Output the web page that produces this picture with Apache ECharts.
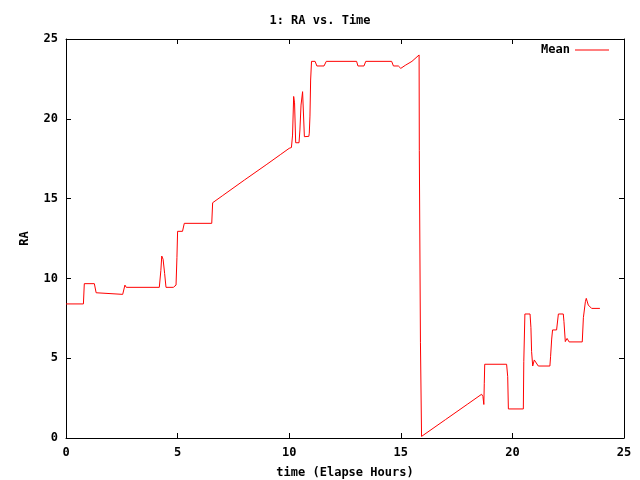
<!DOCTYPE html>
<html>
<head>
<meta charset="utf-8">
<script src="https://cdn.jsdelivr.net/npm/echarts@6/dist/echarts.min.js"></script>
<style>html,body{margin:0;padding:0;background:#fff;}#c{width:640px;height:480px;}</style>
</head>
<body>
<div id="c"></div>
<script>
var times = [0,0.78,0.82,1.27,1.35,1.42,2.54,2.64,2.7,4.18,4.25,4.29,4.35,4.42,4.48,4.81,4.93,4.96,4.97,5.0,5.22,5.30,6.53,6.57,7.0,8.0,9.0,9.6,10.0,10.1,10.15,10.2,10.24,10.29,10.44,10.48,10.53,10.6,10.64,10.68,10.88,10.9,10.93,10.96,11.0,11.16,11.24,11.56,11.66,13.02,13.08,13.35,13.43,14.59,14.67,14.89,15.0,15.2,15.5,15.82,15.83,15.88,15.93,17.0,18.0,18.62,18.68,18.72,18.74,18.76,19.74,19.79,19.82,20.49,20.51,20.56,20.79,20.83,20.86,20.91,20.98,21.06,21.16,21.68,21.71,21.76,21.8,21.98,22.06,22.28,22.31,22.37,22.45,22.54,23.13,23.18,23.27,23.31,23.4,23.55,23.92];
var ra = [8.4,8.4,9.67,9.67,9.1,9.0,9.0,9.58,9.44,9.44,10.5,11.4,11.2,10.3,9.44,9.44,9.58,9.6,11.3,12.95,12.95,13.45,13.45,14.74,15.17,16.17,17.15,17.75,18.15,18.2,18.98,21.4,21.0,18.5,18.5,19.3,20.86,21.7,21.8,18.88,18.9,19.1,20.17,22.43,23.6,23.6,23.31,23.31,23.6,23.6,23.31,23.31,23.6,23.6,23.31,23.31,23.16,23.35,23.6,24.0,18.0,6.0,0.1,1.15,2.13,2.74,2.6,2.1,3.4,4.62,4.62,3.84,1.82,1.82,4.78,7.77,7.77,6.91,5.41,4.51,4.89,4.89,4.51,4.51,5.09,6.2,6.77,6.77,7.77,7.77,7.29,6.04,6.24,6.02,6.02,7.54,8.54,8.75,8.33,8.12,8.12];
var xTicks = [0,5,10,15,20,25];
var yTicks = [0,5,10,15,20,25];

var pts = times.map(function(t,i){return [t, ra[i]];});
var font = '"DejaVu Sans Mono", monospace';
var txt = {fontFamily: font, fontWeight: 'bold', fontSize: 12, color: '#000'};

var chart = echarts.init(document.getElementById('c'), null, {renderer: 'canvas'});
chart.setOption({
  animation: false,
  backgroundColor: '#fff',
  title: {
    text: '1: RA vs. Time', left: 'center', top: 10,
    textStyle: {fontFamily: font, fontWeight: 'bold', fontSize: 12, color: '#000'}
  },
  legend: {
    right: 26, top: 39, align: 'right', itemWidth: 34, itemHeight: 10,
    itemGap: 8,
    textStyle: txt,
    data: [{name: 'Mean', icon: 'path://M0,4.5L34,4.5L34,5.5L0,5.5Z', itemStyle: {color: '#ff0000'}}]
  },
  grid: {left: 66, right: 16, top: 39, bottom: 42, containLabel: false, outerBoundsMode: 'none'},
  xAxis: [{
    type: 'value', min: 0, max: 25, interval: 5,
    name: 'time (Elapse Hours)', nameLocation: 'middle', nameGap: 29,
    nameTextStyle: txt,
    axisLine: {show: true, onZero: false, lineStyle: {color: '#000', width: 1}},
    axisTick: {show: true, inside: true, length: 5, lineStyle: {color: '#000'}},
    axisLabel: Object.assign({margin: 9, formatter: function(v){return xTicks.indexOf(v) >= 0 ? String(v) : '';}}, txt),
    splitLine: {show: false}
  }, {
    type: 'value', min: 0, max: 25, interval: 5, position: 'top',
    axisLine: {show: true, onZero: false, lineStyle: {color: '#000', width: 1}},
    axisTick: {show: true, inside: true, length: 5, lineStyle: {color: '#000'}},
    axisLabel: {show: false}, splitLine: {show: false}
  }],
  yAxis: [{
    type: 'value', min: 0, max: 25, interval: 5,
    name: 'RA', nameLocation: 'middle', nameGap: 35, nameRotate: 90,
    nameTextStyle: txt,
    axisLine: {show: true, onZero: false, lineStyle: {color: '#000', width: 1}},
    axisTick: {show: true, inside: true, length: 5, lineStyle: {color: '#000'}},
    axisLabel: Object.assign({margin: 8, formatter: function(v){return yTicks.indexOf(v) >= 0 ? String(v) : '';}}, txt),
    splitLine: {show: false}
  }, {
    type: 'value', min: 0, max: 25, interval: 5, position: 'right',
    axisLine: {show: true, onZero: false, lineStyle: {color: '#000', width: 1}},
    axisTick: {show: true, inside: true, length: 5, lineStyle: {color: '#000'}},
    axisLabel: {show: false}, splitLine: {show: false}
  }],
  series: [{
    name: 'Mean', type: 'line', data: pts, xAxisIndex: 0, yAxisIndex: 0,
    showSymbol: false, symbol: 'none',
    lineStyle: {color: '#ff0000', width: 1},
    itemStyle: {color: '#ff0000'}
  }]
});
</script>
</body>
</html>
